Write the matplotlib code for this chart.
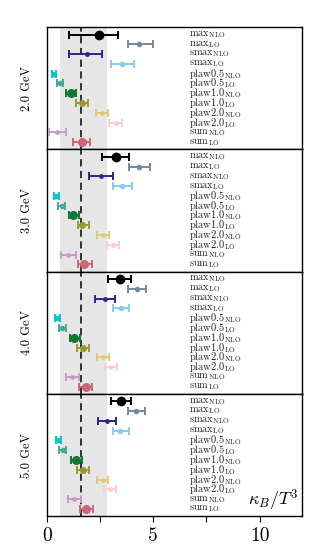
import matplotlib
matplotlib.use("Agg")
import matplotlib.pyplot as plt
from matplotlib.ticker import MultipleLocator

plt.rcParams['font.family'] = 'cmr10'
plt.rcParams['mathtext.fontset'] = 'cm'
plt.rcParams['axes.unicode_minus'] = False

# rows (top to bottom) and panels
methods = ['max', 'max', 'smax', 'smax', 'plaw0.5', 'plaw0.5',
           'plaw1.0', 'plaw1.0', 'plaw2.0', 'plaw2.0', 'sum', 'sum']
orders = ['NLO', 'LO'] * 6
temperatures = ['2.0 GeV', '3.0 GeV', '4.0 GeV', '5.0 GeV']

# kappa_B / T^3: central value, lower and upper end of the error bar
center = [
    [2.45, 4.35, 1.87, 3.55, 0.33, 0.61, 1.13, 1.64, 2.58, 3.24, 0.46, 1.64],
    [3.25, 4.35, 2.55, 3.55, 0.44, 0.69, 1.24, 1.67, 2.63, 3.10, 1.00, 1.76],
    [3.44, 4.23, 2.74, 3.49, 0.49, 0.72, 1.29, 1.68, 2.63, 3.00, 1.19, 1.82],
    [3.49, 4.18, 2.81, 3.44, 0.53, 0.74, 1.37, 1.68, 2.63, 2.97, 1.29, 1.84],
]
lower = [
    [1.05, 3.79, 1.04, 3.02, 0.22, 0.46, 0.90, 1.37, 2.30, 2.92, 0.09, 1.24],
    [2.59, 3.85, 2.00, 3.13, 0.33, 0.53, 1.04, 1.45, 2.37, 2.81, 0.66, 1.46],
    [2.89, 3.81, 2.26, 3.10, 0.36, 0.55, 1.08, 1.43, 2.37, 2.75, 0.90, 1.53],
    [3.02, 3.79, 2.39, 3.10, 0.41, 0.58, 1.13, 1.43, 2.37, 2.70, 1.00, 1.56],
]
upper = [
    [3.33, 4.98, 2.59, 4.09, 0.44, 0.77, 1.35, 1.95, 2.89, 3.55, 0.90, 2.03],
    [3.88, 4.83, 3.10, 3.98, 0.55, 0.85, 1.52, 1.97, 2.91, 3.38, 1.37, 2.14],
    [3.95, 4.67, 3.21, 3.88, 0.61, 0.90, 1.56, 1.97, 2.91, 3.29, 1.52, 2.14],
    [3.96, 4.59, 3.25, 3.84, 0.67, 0.90, 1.64, 1.99, 2.89, 3.24, 1.60, 2.16],
]

band_lo, band_hi = 0.61, 2.83
ref_line = 1.6

colors = ['#000000', '#778899', '#332288', '#88CCEE', '#00CCCC', '#44AA99',
          '#117733', '#999933', '#DDCC77', '#FFCCCC', '#CC99CC', '#CC6677']
msizes = [6, 3, 2.5, 3, 3, 3, 5.5, 4, 2.5, 2.5, 2.5, 5.5]

fig, axes = plt.subplots(4, 1, figsize=(3.17, 5.44), dpi=100, sharex=True)
fig.subplots_adjust(left=0.148, right=0.953, top=0.950, bottom=0.051, hspace=0)

for p, ax in enumerate(axes):
    ax.axvspan(band_lo, band_hi, color='#e6e6e6', lw=0, zorder=0)
    ax.axvline(ref_line, color='#222222', ls=(0, (4, 2.5)), lw=1.3, zorder=1)
    for i in range(len(methods)):
        c = center[p][i]
        err = [[c - lower[p][i]], [upper[p][i] - c]]
        ax.errorbar([c], [i], xerr=err, fmt='o', color=colors[i],
                    ms=msizes[i], lw=1.4, capsize=3, capthick=1.4, zorder=3)
        ax.text(6.7, i, rf'$\mathrm{{{methods[i]}}}_{{\mathrm{{{orders[i]}}}}}$',
                fontsize=7.5, va='center', ha='left', color='#222222')
    ax.set_ylim(11.75, -0.75)
    ax.set_yticks([])
    ax.set_ylabel(temperatures[p], fontsize=9)
    ax.yaxis.set_label_coords(-0.055, 0.5)
    ax.set_xlim(0, 12)
    ax.xaxis.set_major_locator(MultipleLocator(5))
    ax.xaxis.set_minor_locator(MultipleLocator(2.5))
    ax.tick_params(axis='x', which='both', length=4, width=0.8, labelsize=14)
    if p < len(axes) - 1:
        ax.tick_params(axis='x', which='both', bottom=False)
    for s in ax.spines.values():
        s.set_linewidth(1.0)

axes[-1].text(0.985, 0.03, r'$\kappa_B/T^3$', transform=axes[-1].transAxes,
              ha='right', va='bottom', fontsize=13)

plt.savefig('out.png', dpi=100)
